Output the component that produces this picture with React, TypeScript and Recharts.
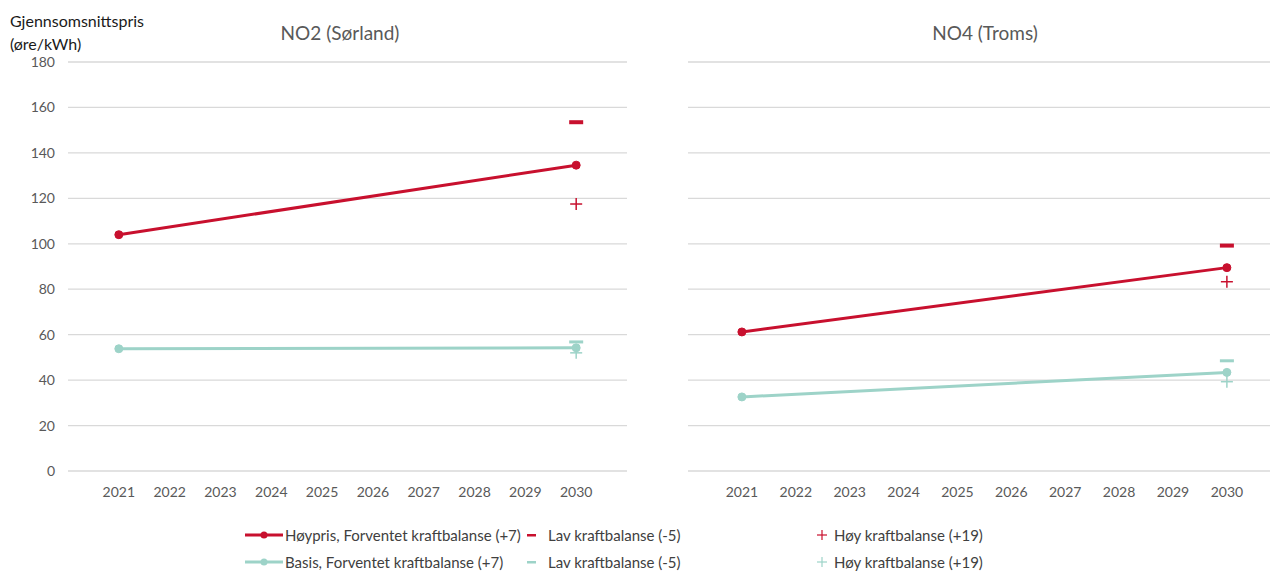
import { LineChart, Line, XAxis, YAxis, CartesianGrid } from 'recharts';

const years = [2021, 2030];
const yearTicks = [2021, 2022, 2023, 2024, 2025, 2026, 2027, 2028, 2029, 2030];
const priceTicks = [0, 20, 40, 60, 80, 100, 120, 140, 160, 180];

// NO2 (Sørland)
const hoyprisNO2 = [104, 134.6];
const hoyprisLavNO2 = [null, 153.5];
const hoyprisHoyNO2 = [null, 117.5];
const basisNO2 = [53.8, 54.2];
const basisLavNO2 = [null, 56.8];
const basisHoyNO2 = [null, 52];

// NO4 (Troms)
const hoyprisNO4 = [61.2, 89.5];
const hoyprisLavNO4 = [null, 99.2];
const hoyprisHoyNO4 = [null, 83.3];
const basisNO4 = [32.6, 43.4];
const basisLavNO4 = [null, 48.5];
const basisHoyNO4 = [null, 39.3];

const RED = '#c8102e';
const TEAL = '#9dd3c8';
const FONT = 'Lato, "Open Sans", sans-serif';

const buildRows = (hp, hpLav, hpHoy, b, bLav, bHoy) =>
  years.map((year, i) => ({
    year,
    hoypris: hp[i],
    hoyprisLav: hpLav[i],
    hoyprisHoy: hpHoy[i],
    basis: b[i],
    basisLav: bLav[i],
    basisHoy: bHoy[i],
  }));

const no2Data = buildRows(hoyprisNO2, hoyprisLavNO2, hoyprisHoyNO2, basisNO2, basisLavNO2, basisHoyNO2);
const no4Data = buildRows(hoyprisNO4, hoyprisLavNO4, hoyprisHoyNO4, basisNO4, basisLavNO4, basisHoyNO4);

const dashDot = (color, h) => (props) => {
  const { cx, cy, index } = props;
  if (cy == null || isNaN(cy)) return <g key={`d-${index}`} />;
  return <rect key={`d-${index}`} x={cx - 7} y={cy - h / 2} width={14} height={h} fill={color} />;
};

const plusDot = (color) => (props) => {
  const { cx, cy, index } = props;
  if (cy == null || isNaN(cy)) return <g key={`p-${index}`} />;
  return (
    <g key={`p-${index}`} stroke={color} strokeWidth={1.5}>
      <line x1={cx - 6} y1={cy} x2={cx + 6} y2={cy} />
      <line x1={cx} y1={cy - 6} x2={cx} y2={cy + 6} />
    </g>
  );
};

const tickStyle = { fill: '#595959', fontSize: 14, fontFamily: FONT };

function Panel({ data, width, margin, domain, showY }) {
  return (
    <LineChart width={width} height={510} data={data} margin={margin}>
      <CartesianGrid vertical={false} stroke="#d9d9d9" strokeWidth={1.3} />
      <XAxis
        dataKey="year"
        type="number"
        domain={domain}
        ticks={yearTicks}
        axisLine={false}
        tickLine={false}
        tickSize={0}
        tickMargin={16}
        height={30}
        tick={tickStyle}
        allowDataOverflow
      />
      <YAxis
        domain={[0, 180]}
        ticks={priceTicks}
        axisLine={false}
        tickLine={false}
        tickSize={0}
        tickMargin={13}
        width={60}
        hide={!showY}
        tick={tickStyle}
      />
      <Line dataKey="hoypris" stroke={RED} strokeWidth={3} dot={{ r: 4, fill: RED, stroke: RED, strokeWidth: 1 }} isAnimationActive={false} />
      <Line dataKey="basis" stroke={TEAL} strokeWidth={3} dot={{ r: 4, fill: TEAL, stroke: TEAL, strokeWidth: 1 }} isAnimationActive={false} />
      <Line dataKey="hoyprisLav" stroke="none" dot={dashDot(RED, 4)} isAnimationActive={false} />
      <Line dataKey="hoyprisHoy" stroke="none" dot={plusDot(RED)} isAnimationActive={false} />
      <Line dataKey="basisLav" stroke="none" dot={dashDot(TEAL, 3)} isAnimationActive={false} />
      <Line dataKey="basisHoy" stroke="none" dot={plusDot(TEAL)} isAnimationActive={false} />
    </LineChart>
  );
}

const legendText = { position: 'absolute', fontSize: 15, color: '#404040', fontFamily: FONT, lineHeight: '18px', whiteSpace: 'nowrap' };

function LegendRow({ top, color }) {
  const label = color === RED ? 'Høypris, Forventet kraftbalanse (+7)' : 'Basis, Forventet kraftbalanse (+7)';
  return (
    <>
      <svg style={{ position: 'absolute', left: 245, top: top - 5 }} width={40} height={10}>
        <line x1={0} y1={5} x2={38} y2={5} stroke={color} strokeWidth={3} />
        <circle cx={19} cy={5} r={3.5} fill={color} />
      </svg>
      <div style={{ ...legendText, left: 285, top: top - 9 }}>{label}</div>
      <svg style={{ position: 'absolute', left: 527, top: top - 5 }} width={10} height={10}>
        <rect x={0} y={4} width={9} height={2.5} fill={color} />
      </svg>
      <div style={{ ...legendText, left: 548, top: top - 9 }}>Lav kraftbalanse (-5)</div>
      <svg style={{ position: 'absolute', left: 817, top: top - 5 }} width={10} height={10}>
        <line x1={0} y1={5} x2={10} y2={5} stroke={color} strokeWidth={1.2} />
        <line x1={5} y1={0} x2={5} y2={10} stroke={color} strokeWidth={1.2} />
      </svg>
      <div style={{ ...legendText, left: 834, top: top - 9 }}>Høy kraftbalanse (+19)</div>
    </>
  );
}

export default function App() {
  return (
    <div style={{ position: 'absolute', left: 0, top: 0, width: 1274, height: 571, background: '#fff', overflow: 'hidden', fontFamily: FONT }}>
      <div style={{ position: 'absolute', left: 0, top: 0 }}>
        <Panel data={no2Data} width={640} margin={{ top: 62, right: 13, bottom: 9, left: 8 }} domain={[2020, 2031]} showY />
      </div>
      <div style={{ position: 'absolute', left: 640, top: 0 }}>
        <Panel data={no4Data} width={634} margin={{ top: 62, right: 4, bottom: 9, left: 48 }} domain={[2020, 2030.8]} showY={false} />
      </div>
      <div style={{ position: 'absolute', left: 10, top: 9, fontSize: 16, color: '#1a1a1a', lineHeight: '23px' }}>
        Gjennsomsnittspris<br />(øre/kWh)
      </div>
      <div style={{ position: 'absolute', left: 240, width: 200, top: 21, textAlign: 'center', fontSize: 19, color: '#595959' }}>NO2 (Sørland)</div>
      <div style={{ position: 'absolute', left: 885, width: 200, top: 21, textAlign: 'center', fontSize: 19, color: '#595959' }}>NO4 (Troms)</div>
      <LegendRow top={535} color={RED} />
      <LegendRow top={562} color={TEAL} />
    </div>
  );
}
